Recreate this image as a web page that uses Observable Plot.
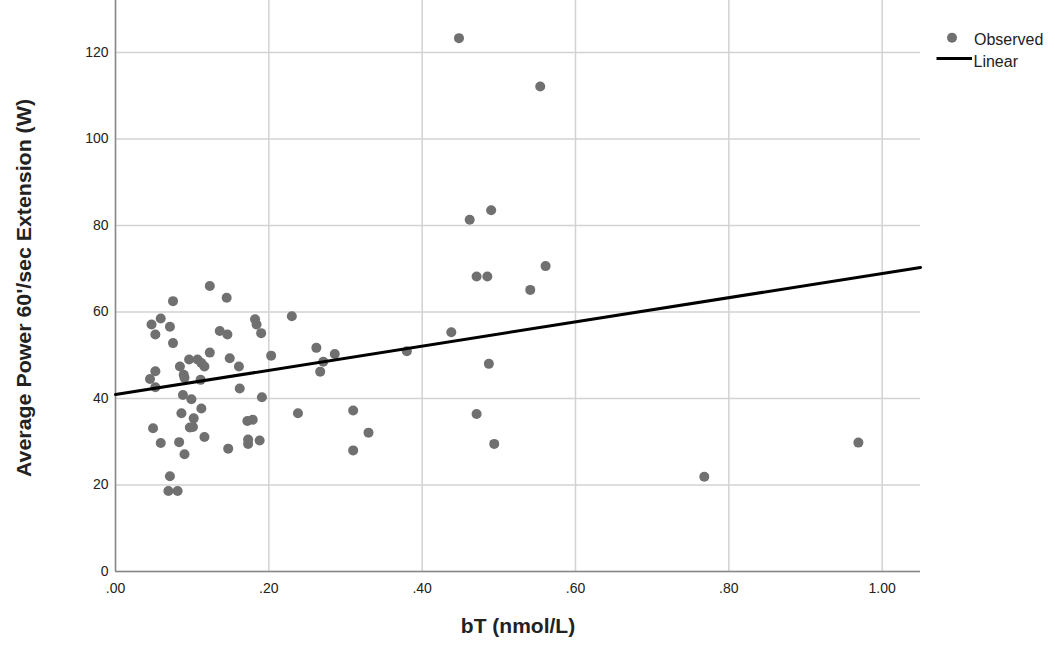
<!DOCTYPE html>
<html>
<head>
<meta charset="utf-8">
<script src="https://cdn.jsdelivr.net/npm/d3@7"></script>
<script src="https://cdn.jsdelivr.net/npm/@observablehq/plot@0.6"></script>
<style>
  body { margin: 0; background: #fff; font-family: "Liberation Sans", Arial, sans-serif; }
  #wrap { position: relative; width: 1055px; height: 647px; }
  #legend { position: absolute; left: 925px; top: 25px; }
</style>
</head>
<body>
<div id="wrap">
  <div id="chart"></div>
  <svg id="legend" width="130" height="50" font-family="Liberation Sans, Arial, sans-serif">
    <circle cx="27" cy="12.7" r="5" fill="#707070"></circle>
    <text x="49" y="20" fill="#222" font-size="16">Observed</text>
    <line x1="11.5" x2="47" y1="33.5" y2="33.5" stroke="#000" stroke-width="3"></line>
    <text x="48.5" y="41.5" fill="#222" font-size="16">Linear</text>
  </svg>
</div>
<script>
// bT (nmol/L)
const bT = [
  0.448, 0.554, 0.490, 0.462, 0.561, 0.471, 0.485, 0.541, 0.438, 0.380,
  0.487, 0.471, 0.494, 0.768, 0.969, 0.230, 0.262, 0.286, 0.271, 0.267,
  0.203, 0.238, 0.310, 0.330, 0.310, 0.123, 0.145, 0.075, 0.059, 0.047,
  0.071, 0.052, 0.182, 0.184, 0.190, 0.136, 0.146, 0.075, 0.123, 0.149,
  0.096, 0.107, 0.112, 0.116, 0.084, 0.161, 0.052, 0.089, 0.090, 0.045,
  0.111, 0.052, 0.162, 0.088, 0.099, 0.191, 0.112, 0.086, 0.102, 0.172,
  0.179, 0.097, 0.101, 0.049, 0.116, 0.059, 0.083, 0.173, 0.173, 0.188,
  0.147, 0.090, 0.071, 0.069, 0.081
];
// Average Power 60'/sec Extension (W)
const power = [
  123.3, 112.1, 83.5, 81.3, 70.6, 68.2, 68.2, 65.1, 55.3, 50.9,
  48.0, 36.4, 29.5, 21.9, 29.8, 59.0, 51.7, 50.3, 48.5, 46.2,
  49.9, 36.6, 37.2, 32.1, 28.0, 66.0, 63.3, 62.5, 58.5, 57.1,
  56.6, 54.8, 58.3, 57.1, 55.1, 55.6, 54.8, 52.8, 50.6, 49.3,
  49.0, 49.0, 48.2, 47.4, 47.4, 47.4, 46.3, 45.5, 44.8, 44.5,
  44.3, 42.6, 42.3, 40.8, 39.8, 40.3, 37.7, 36.6, 35.4, 34.8,
  35.1, 33.3, 33.4, 33.1, 31.1, 29.7, 29.9, 30.5, 29.5, 30.3,
  28.4, 27.1, 22.0, 18.6, 18.6
];
// Linear fit coefficients
const fitIntercept = 40.9;
const fitSlope = 28.0;
const xTicks = [0, 0.2, 0.4, 0.6, 0.8, 1.0];
const yTicks = [0, 20, 40, 60, 80, 100, 120];
const xDomain = [0, 1.05];
const yDomain = [0, 132];
const xTitle = "bT (nmol/L)";
const yTitle = "Average Power 60'/sec Extension (W)";

const points = bT.map((x, i) => ({x, y: power[i]}));
const fitLine = xDomain.map(x => ({x, y: fitIntercept + fitSlope * x}));
const fmtX = v => d3.format(".2f")(v).replace(/^0\./, ".");

const chart = Plot.plot({
  width: 1055,
  height: 647,
  marginLeft: 115,
  marginRight: 135,
  marginTop: 0,
  marginBottom: 76,
  style: {fontFamily: "Liberation Sans, Arial, sans-serif", color: "#222", background: "#fff"},
  x: {domain: xDomain},
  y: {domain: yDomain},
  marks: [
    Plot.gridX(xTicks, {stroke: "#d2d2d2", strokeOpacity: 1, strokeWidth: 1.5}),
    Plot.gridY(yTicks, {stroke: "#d2d2d2", strokeOpacity: 1, strokeWidth: 1.5}),
    Plot.axisX(xTicks, {tickSize: 0, tickPadding: 12, tickFormat: fmtX, fontSize: 14, label: null}),
    Plot.axisY(yTicks, {tickSize: 0, tickPadding: 7, fontSize: 14, label: null}),
    Plot.ruleX([0], {stroke: "#888", strokeWidth: 1.5}),
    Plot.ruleY([0], {stroke: "#888", strokeWidth: 1.5}),
    Plot.dot(points, {x: "x", y: "y", r: 5, fill: "#707070", stroke: "none"}),
    Plot.line(fitLine, {x: "x", y: "y", stroke: "#000", strokeWidth: 3})
  ]
});

// axis titles
const ns = "http://www.w3.org/2000/svg";
const xt = document.createElementNS(ns, "text");
xt.setAttribute("x", 518);
xt.setAttribute("y", 633);
xt.setAttribute("text-anchor", "middle");
xt.setAttribute("font-weight", "bold");
xt.setAttribute("font-size", "21");
xt.setAttribute("fill", "#222");
xt.textContent = xTitle;
chart.appendChild(xt);

const yt = document.createElementNS(ns, "text");
yt.setAttribute("transform", "translate(31,288) rotate(-90)");
yt.setAttribute("text-anchor", "middle");
yt.setAttribute("font-weight", "bold");
yt.setAttribute("font-size", "21");
yt.setAttribute("fill", "#222");
yt.setAttribute("textLength", "378");
yt.setAttribute("lengthAdjust", "spacingAndGlyphs");
yt.textContent = yTitle;
chart.appendChild(yt);

document.getElementById("chart").appendChild(chart);
</script>
</body>
</html>
